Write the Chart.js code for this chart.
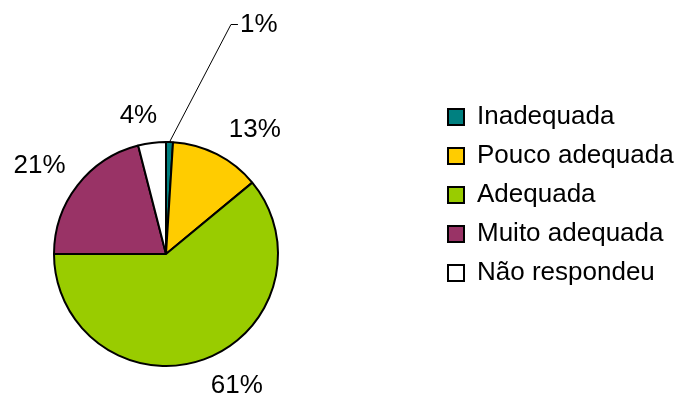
<!DOCTYPE html>
<html>
<head>
<meta charset="utf-8">
<script src="https://cdn.jsdelivr.net/npm/chart.js@4"></script>
<style>
html, body { margin: 0; padding: 0; background: #fff; }
</style>
</head>
<body>
<canvas id="grafico" width="677" height="401"></canvas>
<script>
const categorias = ['Inadequada', 'Pouco adequada', 'Adequada', 'Muito adequada', 'Não respondeu'];
const percentuais = [1, 13, 61, 21, 4];
const cores = ['#008080', '#FFCC00', '#99CC00', '#993366', '#FFFFFF'];

// rótulos: giro em graus a partir da bissetriz da fatia, extra = px além do raio
const posRotulos = [
    {giro: 14, extra: 126.5, guia: true},
    {giro: 8.5, extra: 41},
    {giro: -8.4, extra: 38},
    {giro: -2.8, extra: 42.4},
    {giro: -4.1, extra: 28.7}
];

const fonte = '"Liberation Sans", Arial, sans-serif';

const rotulos = {
    id: 'rotulos',
    afterDatasetsDraw(chart) {
        const ctx = chart.ctx;
        const arcos = chart.getDatasetMeta(0).data;
        ctx.save();
        ctx.font = '26px ' + fonte;
        ctx.fillStyle = '#000';
        ctx.strokeStyle = '#000';
        ctx.textBaseline = 'middle';
        arcos.forEach((arco, i) => {
            const {x, y, startAngle, endAngle, outerRadius} =
                arco.getProps(['x', 'y', 'startAngle', 'endAngle', 'outerRadius'], true);
            const meio = (startAngle + endAngle) / 2;
            const p = posRotulos[i];
            const ang = meio + p.giro * Math.PI / 180;
            const r = outerRadius + p.extra;
            const tx = x + Math.cos(ang) * r;
            const ty = y + Math.sin(ang) * r;
            const texto = percentuais[i] + '%';
            if (p.guia) {
                ctx.lineWidth = 1;
                ctx.beginPath();
                ctx.moveTo(x + Math.cos(meio) * outerRadius, y + Math.sin(meio) * outerRadius);
                ctx.lineTo(tx, ty);
                ctx.lineTo(tx + 7, ty);
                ctx.stroke();
                ctx.textAlign = 'left';
                ctx.fillText(texto, tx + 9, ty);
            } else {
                ctx.textAlign = 'center';
                ctx.fillText(texto, tx, ty);
            }
        });
        ctx.restore();
    }
};

// leva a legenda para a direita, longe da pizza
const legendaLado = {
    id: 'legendaLado',
    afterLayout(chart) {
        const lg = chart.legend;
        lg.left = 435;
        lg.right = chart.width;
        lg.width = lg.right - lg.left;
        lg.top = 91;
        lg.bottom = chart.height;
        lg.height = lg.bottom - lg.top;
    }
};

const grafico = new Chart(document.getElementById('grafico'), {
    type: 'pie',
    data: {
        labels: categorias,
        datasets: [{
            data: percentuais,
            backgroundColor: cores,
            borderColor: '#000',
            borderWidth: 2
        }]
    },
    options: {
        responsive: false,
        animation: false,
        layout: {
            padding: {left: 53, top: 141, right: 398, bottom: 34}
        },
        plugins: {
            legend: {
                position: 'chartArea',
                align: 'start',
                labels: {
                    boxWidth: 16,
                    boxHeight: 16,
                    padding: 13,
                    color: '#000',
                    font: {family: fonte, size: 26}
                }
            },
            tooltip: {enabled: false}
        }
    },
    plugins: [rotulos, legendaLado]
});
</script>
</body>
</html>
